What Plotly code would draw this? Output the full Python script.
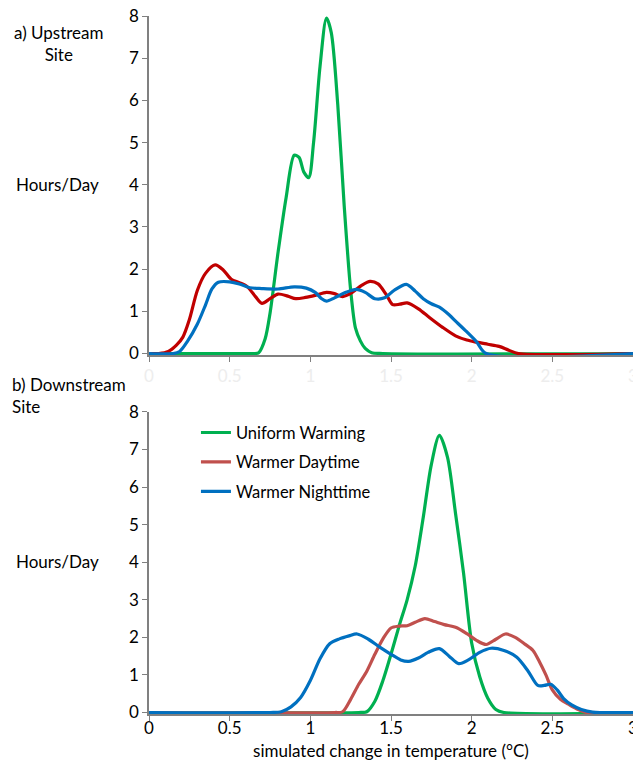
import plotly.graph_objects as go

# ---------------- data ----------------
# a) Upstream site
up_uniform_x = [0, 0.6, 0.65, 0.68, 0.72, 0.75, 0.8, 0.85, 0.9, 0.93, 0.96, 0.99, 1.02, 1.06, 1.1,
                1.13, 1.17, 1.21, 1.25, 1.28, 1.31, 1.34, 1.38, 1.45, 3]
up_uniform_y = [0, 0, 0, 0.02, 0.35, 0.95, 2.4, 3.7, 4.7, 4.65, 4.3, 4.17, 5.0, 6.8, 7.95,
                7.6, 5.9, 3.5, 1.5, 0.6, 0.3, 0.12, 0.02, 0, 0]

up_day_x = [0, 0.06, 0.12, 0.17, 0.21, 0.25, 0.3, 0.35, 0.41, 0.46, 0.51, 0.56, 0.61, 0.66, 0.7,
            0.75, 0.8, 0.86, 0.91, 0.97, 1.03, 1.1, 1.15, 1.2, 1.26, 1.32, 1.37, 1.42, 1.47, 1.51,
            1.555, 1.6, 1.67, 1.74, 1.82, 1.9, 1.97, 2.03, 2.1, 2.17, 2.23, 2.29, 3]
up_day_y = [0, 0, 0.05, 0.2, 0.39, 0.8, 1.5, 1.9, 2.1, 1.98, 1.76, 1.68, 1.58, 1.35, 1.19,
            1.3, 1.41, 1.36, 1.30, 1.33, 1.38, 1.45, 1.42, 1.35, 1.45, 1.62, 1.71, 1.65, 1.40, 1.16,
            1.17, 1.2, 1.06, 0.85, 0.62, 0.42, 0.32, 0.27, 0.22, 0.17, 0.08, 0, 0]

up_night_x = [0, 0.15, 0.19, 0.24, 0.3, 0.35, 0.39, 0.43, 0.5, 0.56, 0.625, 0.7, 0.8, 0.9, 0.975,
              1.03, 1.07, 1.1, 1.15, 1.22, 1.285, 1.34, 1.40, 1.46, 1.52, 1.595, 1.65, 1.70, 1.75,
              1.8, 1.86, 1.905, 1.96, 2.03, 2.09, 3]
up_night_y = [0, 0, 0.05, 0.3, 0.7, 1.15, 1.53, 1.69, 1.70, 1.65, 1.56, 1.54, 1.53, 1.58, 1.55,
              1.45, 1.3, 1.24, 1.32, 1.45, 1.52, 1.45, 1.3, 1.32, 1.5, 1.64, 1.48, 1.30, 1.18,
              1.1, 0.92, 0.75, 0.55, 0.28, 0, 0]

# b) Downstream site
dn_uniform_x = [0, 1.3, 1.35, 1.4, 1.45, 1.5, 1.55, 1.6, 1.65, 1.7, 1.75, 1.8, 1.85, 1.9, 1.95,
                2.0, 2.05, 2.1, 2.15, 2.2, 3]
dn_uniform_y = [0, 0, 0.02, 0.3, 0.85, 1.55, 2.3, 3.0, 3.9, 5.2, 6.6, 7.38, 6.8, 5.3, 3.7,
                1.85, 0.95, 0.38, 0.08, 0, 0]

dn_day_x = [0, 1.15, 1.2, 1.25, 1.3, 1.35, 1.4, 1.45, 1.5, 1.55, 1.6, 1.65, 1.71, 1.77, 1.83,
            1.9, 1.97, 2.03, 2.09, 2.15, 2.21, 2.27, 2.33, 2.38, 2.42, 2.46, 2.5, 2.55, 2.6, 2.65,
            2.71, 3]
dn_day_y = [0, 0, 0.02, 0.35, 0.75, 1.1, 1.55, 1.96, 2.25, 2.3, 2.31, 2.4, 2.50, 2.42, 2.34,
            2.27, 2.1, 1.92, 1.81, 1.95, 2.09, 2.0, 1.82, 1.65, 1.35, 1.0, 0.6, 0.35, 0.22, 0.1,
            0, 0]

dn_night_x = [0, 0.75, 0.82, 0.88, 0.94, 1.0, 1.06, 1.12, 1.18, 1.24, 1.29, 1.36, 1.43, 1.5, 1.56,
              1.61, 1.67, 1.73, 1.8, 1.86, 1.92, 1.98, 2.05, 2.12, 2.2, 2.28, 2.35, 2.41, 2.45,
              2.49, 2.53, 2.57, 2.62, 2.68, 2.75, 3]
dn_night_y = [0, 0, 0.02, 0.15, 0.4, 0.85, 1.43, 1.83, 1.96, 2.04, 2.09, 1.95, 1.74, 1.55, 1.4,
              1.36, 1.45, 1.6, 1.70, 1.5, 1.30, 1.4, 1.6, 1.71, 1.65, 1.47, 1.1, 0.72, 0.72,
              0.75, 0.6, 0.37, 0.2, 0.08, 0.01, 0]

series_names = ["Uniform Warming", "Warmer Daytime", "Warmer Nighttime"]
x_ticks = [0, 0.5, 1, 1.5, 2, 2.5, 3]
x_tick_text = ["0", "0.5", "1", "1.5", "2", "2.5", "3"]
y_ticks = [0, 1, 2, 3, 4, 5, 6, 7, 8]

GREEN = "#00B050"
RED_UP = "#C00000"
RED_DN = "#C0504D"
BLUE = "#0070C0"
AXIS = "#808080"
FONT = "Lato"

fig = go.Figure()

def add(x, y, color, name, xa, ya, show):
    fig.add_trace(go.Scatter(
        x=x, y=y, mode="lines", name=name, xaxis=xa, yaxis=ya,
        line=dict(color=color, width=3.2, shape="spline", smoothing=0.8),
        showlegend=show, legendgroup=name, hoverinfo="skip"))

add(up_uniform_x, up_uniform_y, GREEN, series_names[0], "x", "y", False)
add(up_day_x, up_day_y, RED_UP, series_names[1], "x", "y", False)
add(up_night_x, up_night_y, BLUE, series_names[2], "x", "y", False)
add(dn_uniform_x, dn_uniform_y, GREEN, series_names[0], "x2", "y2", True)
add(dn_day_x, dn_day_y, RED_DN, series_names[1], "x2", "y2", True)
add(dn_night_x, dn_night_y, BLUE, series_names[2], "x2", "y2", True)

axis_common = dict(showgrid=False, zeroline=False, showline=True, linecolor=AXIS, linewidth=1.5,
                   ticks="outside", ticklen=5, tickwidth=1.2, tickcolor=AXIS, automargin=False)

fig.update_layout(
    width=633, height=763,
    margin=dict(l=149, r=0, t=16, b=49, autoexpand=False),
    paper_bgcolor="white", plot_bgcolor="white",
    font=dict(family=FONT, size=16, color="black"),
    xaxis=dict(domain=[0, 1], anchor="y", range=[0, 3], tickvals=x_ticks, ticktext=x_tick_text,
               tickfont=dict(color="#ededed", size=17), ticklabeloverflow="allow", **axis_common),
    yaxis=dict(domain=[0.5143, 1.0], anchor="x", range=[-0.035, 8], tickvals=y_ticks,
               tickfont=dict(size=17), **axis_common),
    xaxis2=dict(domain=[0, 1], anchor="y2", range=[0, 3], tickvals=x_ticks, ticktext=x_tick_text,
                tickfont=dict(size=17), ticklabeloverflow="allow", ticklabelstandoff=-7,
                title=dict(text="simulated change in temperature (°C)", font=dict(size=17), standoff=8),
                **axis_common),
    yaxis2=dict(domain=[0, 0.4327], anchor="x2", range=[-0.04, 8], tickvals=y_ticks,
                tickfont=dict(size=17), **axis_common),
    legend=dict(x=0.097, y=0.428, xanchor="left", yanchor="top", bgcolor="rgba(0,0,0,0)",
                font=dict(size=16.5), traceorder="grouped", tracegroupgap=5),
    annotations=[
        dict(text="a) Upstream<br>Site", xref="paper", yref="paper", x=-0.186, y=0.961,
             xanchor="center", yanchor="middle", align="center", showarrow=False,
             font=dict(size=17)),
        dict(text="b) Downstream<br>Site", xref="paper", yref="paper", x=-0.287, y=0.456,
             xanchor="left", yanchor="middle", align="left", showarrow=False,
             font=dict(size=17)),
        dict(text="Hours/Day", xref="paper", yref="paper", x=-0.19, y=0.758,
             xanchor="center", yanchor="middle", showarrow=False, font=dict(size=17)),
        dict(text="Hours/Day", xref="paper", yref="paper", x=-0.19, y=0.218,
             xanchor="center", yanchor="middle", showarrow=False, font=dict(size=17)),
    ],
)

fig.write_html("out.html")
